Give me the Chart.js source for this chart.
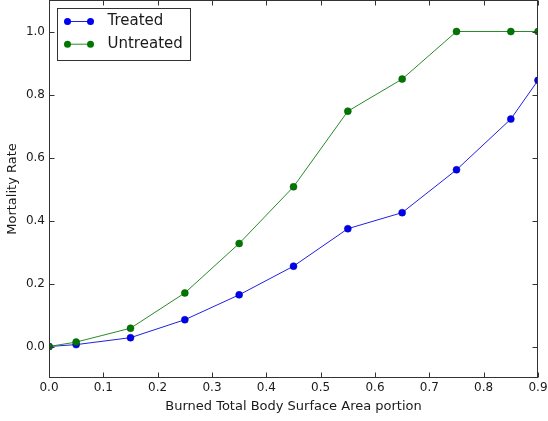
<!DOCTYPE html>
<html>
<head>
<meta charset="utf-8">
<script src="https://cdn.jsdelivr.net/npm/chart.js@4/dist/chart.umd.min.js"></script>
<style>
  body { margin: 0; background: #fff; }
  canvas { display: block; }
</style>
</head>
<body>
<canvas id="chart" width="548" height="421"></canvas>
<script>
// burned area portion (x) and mortality rates
const areaPortion = [0, 0.05, 0.15, 0.25, 0.35, 0.45, 0.55, 0.65, 0.75, 0.85, 0.9];
const treated   = [0, 0.006, 0.028, 0.085, 0.164, 0.255, 0.374, 0.425, 0.561, 0.722, 0.845];
const untreated = [0, 0.014, 0.058, 0.170, 0.327, 0.507, 0.747, 0.849, 1.0, 1.0, 1.0];

const xTicks = [0, 0.1, 0.2, 0.3, 0.4, 0.5, 0.6, 0.7, 0.8, 0.9];
const yTicks = [0, 0.2, 0.4, 0.6, 0.8, 1.0];
const xTickLabels = ["0.0", "0.1", "0.2", "0.3", "0.4", "0.5", "0.6", "0.7", "0.8", "0.9"];
const yTickLabels = ["0.0", "0.2", "0.4", "0.6", "0.8", "1.0"];

const FONT = "'DejaVu Sans', sans-serif";
const INK = "#1a1a1a";

function points(ys) {
  return areaPortion.map((x, i) => ({ x: x, y: ys[i] }));
}

// box around the plot with inward ticks on all four sides (matplotlib look)
const frame = {
  id: "frame",
  afterDatasetsDraw(chart) {
    const { ctx, chartArea: a, scales } = chart;
    const l = Math.round(a.left) + 0.5, r = Math.round(a.right) - 0.5;
    const t = Math.round(a.top) + 0.5, b = Math.round(a.bottom) - 0.5;
    ctx.save();
    ctx.strokeStyle = "#333";
    ctx.lineWidth = 1;
    ctx.strokeRect(l, t, r - l, b - t);
    ctx.beginPath();
    xTicks.forEach(v => {
      const px = Math.round(scales.x.getPixelForValue(v)) + 0.5;
      ctx.moveTo(px, b); ctx.lineTo(px, b - 5);
      ctx.moveTo(px, t); ctx.lineTo(px, t + 5);
    });
    yTicks.forEach(v => {
      const py = Math.round(scales.y.getPixelForValue(v)) + 0.5;
      ctx.moveTo(l, py); ctx.lineTo(l + 5, py);
      ctx.moveTo(r, py); ctx.lineTo(r - 5, py);
    });
    ctx.stroke();
    ctx.restore();
  }
};

// legend box in the upper left, line with a marker at each end
const boxLegend = {
  id: "boxLegend",
  afterDraw(chart) {
    const { ctx, chartArea: a } = chart;
    const x0 = Math.round(a.left) + 8.5, y0 = Math.round(a.top) + 8.5;
    const w = 133, h = 52;
    ctx.save();
    ctx.fillStyle = "#fff";
    ctx.fillRect(x0, y0, w, h);
    ctx.strokeStyle = "#333";
    ctx.lineWidth = 1;
    ctx.strokeRect(x0, y0, w, h);
    chart.data.datasets.forEach((ds, i) => {
      const y = y0 + 13 + i * 22.7;
      ctx.strokeStyle = ds.borderColor;
      ctx.beginPath();
      ctx.moveTo(x0 + 10, y);
      ctx.lineTo(x0 + 33, y);
      ctx.stroke();
      ctx.fillStyle = ds.pointBackgroundColor;
      [x0 + 10, x0 + 33].forEach(mx => {
        ctx.beginPath();
        ctx.arc(mx, y, 3.5, 0, Math.PI * 2);
        ctx.fill();
      });
      ctx.fillStyle = INK;
      ctx.font = "15px " + FONT;
      ctx.textBaseline = "middle";
      ctx.fillText(ds.label, x0 + 50, y);
    });
    ctx.restore();
  }
};

new Chart("chart", {
  type: "line",
  data: {
    datasets: [{
      label: "Treated",
      data: points(treated),
      borderColor: "#2020e0",
      borderWidth: 1,
      pointBackgroundColor: "#0000ee",
      pointBorderColor: "#0000aa",
      pointBorderWidth: 0.5,
      pointRadius: 3.5,
      clip: 0,
      order: 1
    }, {
      label: "Untreated",
      data: points(untreated),
      borderColor: "#2a8a2a",
      borderWidth: 1,
      pointBackgroundColor: "#007700",
      pointBorderColor: "#005500",
      pointBorderWidth: 0.5,
      pointRadius: 3.5,
      clip: 0,
      order: 0
    }]
  },
  options: {
    responsive: false,
    animation: false,
    layout: { autoPadding: false, padding: { top: 0, right: 10, bottom: 0, left: 0 } },
    plugins: { legend: { display: false }, tooltip: { enabled: false } },
    scales: {
      x: {
        type: "linear",
        min: 0,
        max: 0.9,
        afterBuildTicks: s => { s.ticks = xTicks.map(v => ({ value: v })); },
        afterFit: s => { s.height = 43; s.paddingLeft = 0; s.paddingRight = 0; },
        grid: { display: false, drawTicks: false },
        border: { display: false },
        ticks: {
          padding: 3,
          maxRotation: 0,
          color: INK,
          font: { family: FONT, size: 12 },
          callback: (v, i) => xTickLabels[i]
        },
        title: {
          display: true,
          text: "Burned Total Body Surface Area portion",
          color: INK,
          font: { family: FONT, size: 13 },
          padding: { top: 0, bottom: 6.5 }
        }
      },
      y: {
        min: -0.1,
        max: 1.1,
        afterBuildTicks: s => { s.ticks = yTicks.map(v => ({ value: v })); },
        afterFit: s => { s.width = 49; s.paddingTop = 0; s.paddingBottom = 0; },
        grid: { display: false, drawTicks: false },
        border: { display: false },
        ticks: {
          padding: 4,
          color: INK,
          font: { family: FONT, size: 12 },
          callback: (v, i) => yTickLabels[i]
        },
        title: {
          display: true,
          text: "Mortality Rate",
          color: INK,
          font: { family: FONT, size: 13 },
          padding: { top: 4.7, bottom: 0 }
        }
      }
    }
  },
  plugins: [frame, boxLegend]
});
</script>
</body>
</html>
